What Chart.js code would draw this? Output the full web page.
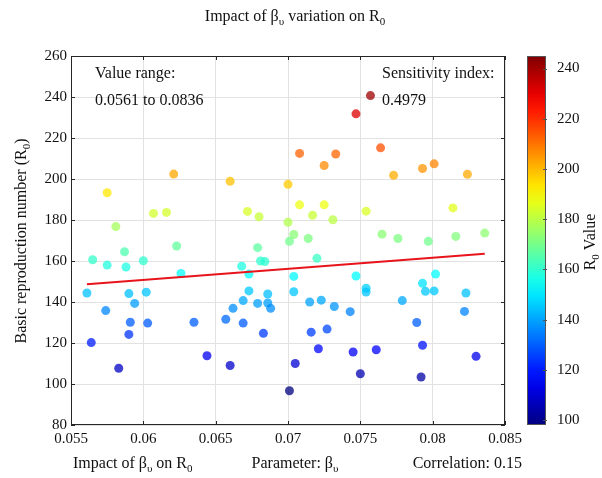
<!DOCTYPE html>
<html lang="en">
<head>
<meta charset="UTF-8">
<title>Impact of beta variation on R0</title>
<script src="https://cdn.jsdelivr.net/npm/chart.js"></script>
<style>
  body { margin: 0; background: #fff; }
  #chart { display: block; }
</style>
</head>
<body>
<canvas id="chart" width="602" height="478"></canvas>
<script>
// beta_v samples and the R0 each one gives
const betaVals = [
  0.0561, 0.0564, 0.0565, 0.0574, 0.0575, 0.0575, 0.0581, 0.0583, 0.0587, 0.0588,
  0.0590, 0.0590, 0.0591, 0.0594, 0.0600, 0.0602, 0.0603, 0.0607, 0.0616, 0.0621,
  0.0623, 0.0626, 0.0635, 0.0644, 0.0657, 0.0660, 0.0660, 0.0662, 0.0668, 0.0669,
  0.0669, 0.0672, 0.0673, 0.0673, 0.0679, 0.0679, 0.0680, 0.0681, 0.0683, 0.0684,
  0.0686, 0.0686, 0.0688, 0.0700, 0.0700, 0.0701, 0.0701, 0.0704, 0.0704, 0.0704,
  0.0705, 0.0708, 0.0708, 0.0714, 0.0715, 0.0716, 0.0717, 0.0720, 0.0721, 0.0723,
  0.0725, 0.0725, 0.0727, 0.0731, 0.0732, 0.0733, 0.0743, 0.0745, 0.0747, 0.0747,
  0.0750, 0.0754, 0.0754, 0.0754, 0.0757, 0.0761, 0.0764, 0.0765, 0.0773, 0.0776,
  0.0779, 0.0789, 0.0792, 0.0793, 0.0793, 0.0793, 0.0795, 0.0797, 0.0801, 0.0801,
  0.0802, 0.0814, 0.0816, 0.0822, 0.0823, 0.0824, 0.0830, 0.0836
];
const r0Vals = [
  144.4, 120.2, 160.6, 135.8, 158.0, 193.3, 176.8, 107.7, 164.5, 157.1,
  144.1, 124.2, 130.1, 139.3, 160.1, 144.8, 129.7, 183.2, 183.7, 202.4,
  167.3, 153.9, 130.1, 113.8, 131.6, 198.9, 109.0, 136.9, 157.5, 140.7,
  129.7, 184.2, 145.4, 153.6, 139.3, 166.5, 181.6, 160.0, 124.7, 159.7,
  143.9, 139.5, 136.9, 178.9, 197.4, 96.7, 169.6, 172.9, 152.5, 145.0,
  110.0, 212.5, 187.4, 171.0, 140.0, 125.3, 182.3, 161.3, 117.2, 140.9,
  206.6, 187.4, 126.8, 180.1, 137.8, 212.2, 135.3, 115.6, 231.8, 152.7,
  105.0, 184.3, 146.7, 144.9, 240.7, 116.7, 215.2, 173.1, 201.8, 171.0,
  140.7, 130.0, 103.4, 118.9, 205.1, 149.1, 145.2, 169.6, 207.4, 145.4,
  153.6, 185.9, 172.0, 135.4, 144.4, 202.3, 113.5, 173.6
];
const colorLimits = [98, 245];
const rangeText = '0.0561 to 0.0836';
const sensitivityText = '0.4979';
const correlationText = '0.15';

const FONT = "'Liberation Serif', 'Times New Roman', serif";

function jet(t) {
  t = Math.max(0, Math.min(1, t));
  const c = v => Math.round(255 * Math.max(0, Math.min(1, v)));
  return [c(1.5 - Math.abs(4 * t - 3)), c(1.5 - Math.abs(4 * t - 2)), c(1.5 - Math.abs(4 * t - 1))];
}

// least squares fit for the trend line
const n = betaVals.length;
const mx = betaVals.reduce((a, b) => a + b, 0) / n;
const my = r0Vals.reduce((a, b) => a + b, 0) / n;
let sxy = 0, sxx = 0;
for (let i = 0; i < n; i++) {
  sxy += (betaVals[i] - mx) * (r0Vals[i] - my);
  sxx += (betaVals[i] - mx) ** 2;
}
const slope = sxy / sxx;
const icpt = my - slope * mx;
const xMin = Math.min(...betaVals), xMax = Math.max(...betaVals);

const points = betaVals.map((x, i) => ({ x: x, y: r0Vals[i] }));
const pointColors = r0Vals.map(v => {
  const [r, g, b] = jet((v - colorLimits[0]) / (colorLimits[1] - colorLimits[0]));
  return `rgba(${r}, ${g}, ${b}, 0.75)`;
});

// text with subscripts: parts = [[text, isSub], ...]
function drawRich(ctx, parts, x, y, align, size) {
  const subSize = Math.round(size * 0.68);
  let total = 0;
  parts.forEach(p => {
    ctx.font = `${p[1] ? subSize : size}px ${FONT}`;
    total += ctx.measureText(p[0]).width;
  });
  let cx = align === 'center' ? x - total / 2 : align === 'right' ? x - total : x;
  ctx.textAlign = 'left';
  ctx.textBaseline = 'middle';
  parts.forEach(p => {
    ctx.font = `${p[1] ? subSize : size}px ${FONT}`;
    ctx.fillText(p[0], cx, p[1] ? y + size * 0.32 : y);
    cx += ctx.measureText(p[0]).width;
  });
}

const decorPlugin = {
  id: 'decor',
  beforeDatasetsDraw(chart) {
    const ctx = chart.ctx;
    const ca = chart.chartArea;
    const cb = chart.scales.cb;
    // colour bar
    const x0 = cb.left + 22, w = 19;
    const grad = ctx.createLinearGradient(0, ca.bottom, 0, ca.top);
    for (let i = 0; i <= 20; i++) {
      const [r, g, b] = jet(i / 20);
      grad.addColorStop(i / 20, `rgb(${r}, ${g}, ${b})`);
    }
    ctx.save();
    ctx.fillStyle = grad;
    ctx.fillRect(x0, ca.top, w, ca.bottom - ca.top);
    ctx.strokeStyle = '#555';
    ctx.lineWidth = 1;
    ctx.strokeRect(x0 + 0.5, ca.top + 0.5, w - 1, ca.bottom - ca.top - 1);
    cb.ticks.forEach(t => {
      const py = Math.round(cb.getPixelForValue(t.value)) + 0.5;
      ctx.beginPath();
      ctx.moveTo(x0 + w - 3, py);
      ctx.lineTo(x0 + w + 1, py);
      ctx.stroke();
    });
    ctx.restore();
  },
  afterDraw(chart) {
    const ctx = chart.ctx;
    const ca = chart.chartArea;
    const xs = chart.scales.x, ys = chart.scales.y;
    ctx.save();
    // axes box with inward ticks
    ctx.strokeStyle = '#262626';
    ctx.lineWidth = 1;
    ctx.strokeRect(ca.left + 0.5, ca.top + 0.5, ca.right - ca.left - 1, ca.bottom - ca.top - 1);
    ctx.beginPath();
    xs.ticks.forEach(t => {
      const px = Math.round(xs.getPixelForValue(t.value)) + 0.5;
      ctx.moveTo(px, ca.bottom); ctx.lineTo(px, ca.bottom - 4);
      ctx.moveTo(px, ca.top); ctx.lineTo(px, ca.top + 4);
    });
    ys.ticks.forEach(t => {
      const py = Math.round(ys.getPixelForValue(t.value)) + 0.5;
      ctx.moveTo(ca.left, py); ctx.lineTo(ca.left + 4, py);
      ctx.moveTo(ca.right, py); ctx.lineTo(ca.right - 4, py);
    });
    ctx.stroke();

    ctx.fillStyle = '#111';
    drawRich(ctx, [['Impact of β', 0], ['υ', 1], [' variation on R', 0], ['0', 1]], 295, 17, 'center', 16);

    // annotations inside the axes
    drawRich(ctx, [['Value range:', 0]], ca.left + 24, 74, 'left', 16);
    drawRich(ctx, [[rangeText, 0]], ca.left + 24, 101, 'left', 16);
    drawRich(ctx, [['Sensitivity index:', 0]], 382, 74, 'left', 16);
    drawRich(ctx, [[sensitivityText, 0]], 382, 101, 'left', 16);

    // bottom line of labels
    drawRich(ctx, [['Impact of β', 0], ['υ', 1], [' on R', 0], ['0', 1]], 73, 464, 'left', 16);
    drawRich(ctx, [['Parameter: β', 0], ['υ', 1]], 295, 464, 'center', 16);
    drawRich(ctx, [['Correlation: ' + correlationText, 0]], 522, 464, 'right', 16);

    // y axis title
    ctx.save();
    ctx.translate(22, 241);
    ctx.rotate(-Math.PI / 2);
    drawRich(ctx, [['Basic reproduction number (R', 0], ['0', 1], [')', 0]], 0, 0, 'center', 16);
    ctx.restore();

    // colour bar title
    ctx.save();
    ctx.translate(591, 242);
    ctx.rotate(-Math.PI / 2);
    drawRich(ctx, [['R', 0], ['0', 1], [' Value', 0]], 0, 0, 'center', 16);
    ctx.restore();
    ctx.restore();
  }
};

const tickFont = { family: FONT, size: 15 };

new Chart(document.getElementById('chart').getContext('2d'), {
  type: 'scatter',
  data: {
    datasets: [
      {
        type: 'line',
        label: 'Trend',
        data: [{ x: xMin, y: icpt + slope * xMin }, { x: xMax, y: icpt + slope * xMax }],
        borderColor: '#e8141c',
        borderWidth: 2,
        pointRadius: 0,
        fill: false
      },
      {
        label: 'R0',
        data: points,
        backgroundColor: pointColors,
        borderWidth: 0,
        pointRadius: 4.5,
        pointHoverRadius: 4.5
      }
    ]
  },
  options: {
    responsive: false,
    devicePixelRatio: 1,
    animation: false,
    layout: { padding: { top: 56, left: 0, right: 0, bottom: 0 } },
    plugins: { legend: { display: false }, tooltip: { enabled: false } },
    scales: {
      x: {
        type: 'linear',
        min: 0.055,
        max: 0.085,
        afterFit: s => { s.height = 49; },
        ticks: {
          stepSize: 0.005,
          padding: 5,
          color: '#111',
          font: tickFont,
          callback: v => String(+v.toFixed(3))
        },
        grid: { color: '#e2e2e2', drawTicks: false },
        border: { display: false }
      },
      y: {
        min: 80,
        max: 260,
        afterFit: s => { s.width = 71; },
        ticks: { stepSize: 20, padding: 4, color: '#111', font: tickFont },
        grid: { color: '#e2e2e2', drawTicks: false },
        border: { display: false }
      },
      cb: {
        type: 'linear',
        position: 'right',
        min: colorLimits[0],
        max: colorLimits[1],
        afterFit: s => { s.width = 97; },
        ticks: { stepSize: 20, includeBounds: false, padding: 44, color: '#111', font: tickFont },
        grid: { display: false },
        border: { display: false }
      }
    }
  },
  plugins: [decorPlugin]
});
</script>
</body>
</html>
